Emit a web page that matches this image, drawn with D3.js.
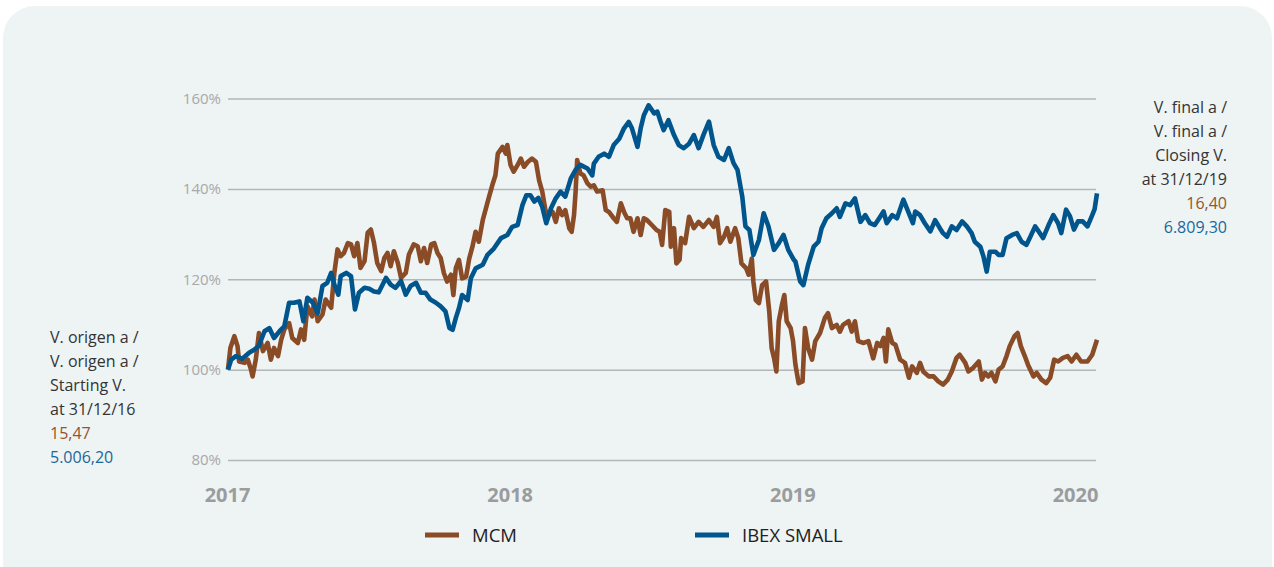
<!DOCTYPE html>
<html><head><meta charset="utf-8">
<script src="https://cdn.jsdelivr.net/npm/d3@7"></script>
<style>html,body{margin:0;padding:0;background:#fff;}svg{display:block;}</style>
</head><body>
<svg id="chart" width="1274" height="567"></svg>
<script>
// ---- data (days since 31/12/2016, % of starting value) ----
const ibexDay = [0,4,10,18,27,33,39,46,52,58,65,71,77,83,90,95,100,107,113,119,125,130,134,139,142,149,155,160,165,172,178,184,190,199,205,211,218,224,230,237,243,249,255,262,268,274,279,283,287,291,295,302,306,312,321,327,335,344,352,358,365,371,376,381,386,391,396,401,407,413,419,425,432,438,444,453,459,461,467,474,480,486,493,499,505,509,516,520,524,530,537,541,545,549,555,562,568,574,581,587,593,599,606,612,618,625,631,637,642,648,652,657,662,669,675,681,688,694,700,706,713,715,721,725,731,738,744,748,754,761,767,771,778,784,790,797,803,809,815,822,826,830,837,843,851,858,863,866,872,878,885,891,897,901,906,912,918,925,931,937,941,948,952,956,960,967,971,976,981,988,994,1000,1006,1011,1017,1023,1027,1034,1040,1046,1050,1056,1061,1066,1071,1077,1083,1089,1092,1095];
const ibexPct = [100,102.2,103,102.4,103.8,104.4,105.3,108.5,109.2,107,108.5,109.6,114.8,114.8,115.1,110.7,115.9,114.8,112.5,118.5,119.2,121.4,118.8,116.6,120.7,121.4,120.7,113.3,117,118.1,117.9,117.3,117.1,120.3,118.8,118.1,119.6,116.6,118.5,119.2,117,117,115.5,114.8,114,112.9,109.2,108.8,111.4,113.6,116.5,115.4,120.2,122.4,123.2,125.4,126.8,129.1,129.8,131.6,132,136.4,138.6,138.6,137.2,138,136,132.4,135.7,137.9,139.4,138.3,142.3,144.2,145.3,144.5,143,145.6,147.1,147.8,147.1,149.7,151.1,153.4,154.8,153.4,149.3,153.4,156.3,158.5,156.7,157.1,154.9,153,155.2,151.9,149.7,149,150,151.9,149,151.9,154.9,149.7,147.1,146.4,149,145.7,144.2,138.3,131.7,130.9,125.4,128.7,134.6,131.7,126.5,128,129.8,126.5,124.3,123.9,119.5,118.7,123.2,127.2,128.3,131.3,133.5,134.6,135.7,133.8,136.8,136.4,137.9,132.7,134.2,132.4,132,133.9,135,132.4,134.2,133.5,137.6,134.6,132.4,135,134.2,132.4,130.6,133.1,131.3,130.2,129.4,131.7,130.9,132.8,131.7,130.2,128.3,127.2,125,121.7,126.1,126.1,125.4,125.4,129.1,129.8,130.2,128.3,127.6,129.4,131.7,130.2,129.1,132,134.2,132.4,130.2,135.4,133.9,131,132.8,132.8,131.7,134.2,135.5,139];

const mcmDay = [0,3,8,12,14,21,25,29,31,35,39,44,50,54,58,63,67,71,77,81,88,92,96,100,106,109,113,119,123,130,134,138,142,146,151,155,159,163,167,172,176,180,184,188,193,197,201,205,209,214,218,224,228,234,239,243,247,251,256,260,264,268,272,276,281,284,287,291,295,300,304,308,312,316,321,325,329,333,337,340,346,350,352,356,360,365,369,373,378,383,388,392,396,400,404,409,413,417,421,425,430,433,436,438,440,444,448,453,457,461,465,472,476,480,486,490,495,499,503,507,511,516,520,524,528,534,540,544,547,551,556,558,562,565,569,571,576,581,587,593,599,606,612,616,620,625,629,633,639,643,647,653,656,660,662,665,669,673,678,682,685,688,691,694,698,701,704,709,712,715,719,724,727,731,736,740,746,752,756,761,767,771,775,782,786,790,794,801,807,813,818,822,826,829,832,837,841,847,853,858,862,868,872,876,883,889,895,901,907,912,918,922,929,933,939,946,950,954,958,962,967,971,976,981,985,991,995,999,1004,1008,1015,1019,1025,1031,1036,1041,1046,1052,1058,1063,1069,1075,1083,1089,1095];
const mcmPct = [100,104.8,107.4,105.2,101.8,101.5,102.2,100,98.5,102.2,108.1,104.1,105.9,102.2,104.8,103,106.6,108.9,110.3,107,105.9,108.9,106.6,114,111.8,115.5,110.7,112.2,115.5,113.7,121.4,126.6,125.1,125.8,128,127.7,125.1,128,122.5,124,130.3,131,128,123.6,121.8,124.7,125.8,122.9,126.2,123.6,120.3,121.4,125.5,127.7,127.3,124,126.9,123.6,127.7,128,125.8,124.7,121.4,119.5,121,116.5,122.4,124.3,120.2,120.6,124.6,127.2,130.5,128.3,133.1,135.7,138.3,140.8,143,147.8,149.3,147.8,149.7,145.3,143.8,145.3,146.7,144.9,146,146.7,146,141.9,139.4,135.3,134.2,134.9,132.7,135.7,134.2,135.3,131.3,130.5,134.2,139.4,146.4,143.4,143,141.2,140.5,140.8,139.4,139.7,135.3,134.9,133.5,132.7,136.8,134.9,133.5,133.5,130.5,133.5,129.8,133.5,133.1,132,130.9,130.5,127.6,135.3,134.9,127.2,131.3,123.5,124.3,129.1,128,133.8,131.3,132.7,131.6,133.1,131.6,133.8,128,129.4,131.3,128.3,131.3,129.1,123.5,122.4,121,124.6,119.5,115.4,114.7,118.7,119.5,112.9,104.8,102.6,99.6,110.7,114.3,116.5,110.7,109.2,106.3,101.1,97,97.4,109.2,104.8,102.2,106.3,108.1,111.4,112.5,109.2,109.9,108.4,109.9,110.7,108.4,110.7,106.3,105.9,106.3,102.5,105.9,105.2,107,101.8,108.9,105.9,105.5,102.2,101.5,98.2,100.7,99.3,101.5,99.6,98.5,98.5,97.4,96.7,97.8,99.6,102.6,103.3,101.5,99.6,100.4,101.8,97.8,99.3,98.5,99.3,97.4,100,100.7,103,105.2,107.4,108.1,105.2,103,101.1,98.5,99.3,97.8,97,98.2,102.2,101.8,102.6,103,101.8,103.3,101.8,101.8,103.3,106.6];

const yTicks = [80, 100, 120, 140, 160];
const yearLabels = ["2017", "2018", "2019", "2020"];
const seriesNames = ["MCM", "IBEX SMALL"];
const leftNote = ["V. origen a /", "V. origen a /", "Starting V.", "at 31/12/16"];
const leftVals = ["15,47", "5.006,20"];
const rightNote = ["V. final a /", "V. final a /", "Closing V.", "at 31/12/19"];
const rightVals = ["16,40", "6.809,30"];

// ---- styles ----
const BROWN = "#8a4b27", BLUE = "#00558c";
const BROWN_T = "#94552e", BLUE_T = "#1b679b";
const FONT = "'Open Sans', 'Noto Sans', sans-serif";

const svg = d3.select("#chart");
svg.append("rect").attr("x", 3).attr("y", 6).attr("width", 1269).attr("height", 600)
  .attr("rx", 32).attr("fill", "#eef3f3");

const x = d3.scaleLinear().domain([0, 1095]).range([228, 1097]);
const y = d3.scaleLinear().domain([80, 160]).range([460, 98.5]);
const xLab = d3.scalePoint().domain(yearLabels).range([227, 1075]);

// grid
const yAxis = d3.axisLeft(y).tickValues(yTicks).tickSize(-(1096 - 228)).tickPadding(7)
  .tickFormat(d => d + "%");
const gy = svg.append("g").attr("transform", "translate(228,0)").call(yAxis);
gy.select(".domain").remove();
gy.selectAll(".tick line").attr("stroke", "#b3b6b7").attr("stroke-width", 1.5);
gy.selectAll(".tick text").attr("fill", "#a7a9aa").style("font-family", FONT).style("font-size", "15px");

// year labels
const xAxis = d3.axisBottom(xLab).tickSize(0).tickPadding(0);
const gx = svg.append("g").attr("transform", "translate(0,488)").call(xAxis);
gx.select(".domain").remove();
gx.selectAll(".tick text").attr("fill", "#9a9c9d").style("font-family", FONT)
  .style("font-size", "20px").style("font-weight", "700");

// lines
const line = d3.line().x(d => x(d[0])).y(d => y(d[1])).curve(d3.curveLinear);
const mcm = mcmDay.map((d, i) => [d, mcmPct[i]]);
const ibex = ibexDay.map((d, i) => [d, ibexPct[i]]);
svg.append("path").datum(mcm).attr("d", line).attr("fill", "none")
  .attr("stroke", BROWN).attr("stroke-width", 4.6).attr("stroke-linejoin", "round");
svg.append("path").datum(ibex).attr("d", line).attr("fill", "none")
  .attr("stroke", BLUE).attr("stroke-width", 4.6).attr("stroke-linejoin", "round");

// legend
const legX = [425, 695];
const legColors = [BROWN, BLUE];
seriesNames.forEach((n, i) => {
  svg.append("line").attr("x1", legX[i]).attr("x2", legX[i] + 34).attr("y1", 535).attr("y2", 535)
    .attr("stroke", legColors[i]).attr("stroke-width", 5);
  svg.append("text").attr("x", legX[i] + 47).attr("y", 542).text(n)
    .attr("fill", "#222").style("font-family", FONT).style("font-size", "18.5px");
});

// notes
function note(xp, yp, anchor, lines, vals) {
  const t = svg.append("text").attr("text-anchor", anchor).style("font-family", FONT).style("font-size", "16px");
  lines.forEach((l, i) => t.append("tspan").attr("x", xp).attr("y", yp + i * 24).attr("fill", "#333").text(l));
  vals.forEach((v, i) => t.append("tspan").attr("x", xp).attr("y", yp + (lines.length + i) * 24)
    .attr("fill", i === 0 ? BROWN_T : BLUE_T).text(v));
}
note(50, 343, "start", leftNote, leftVals);
note(1227, 113, "end", rightNote, rightVals);
</script>
</body></html>
